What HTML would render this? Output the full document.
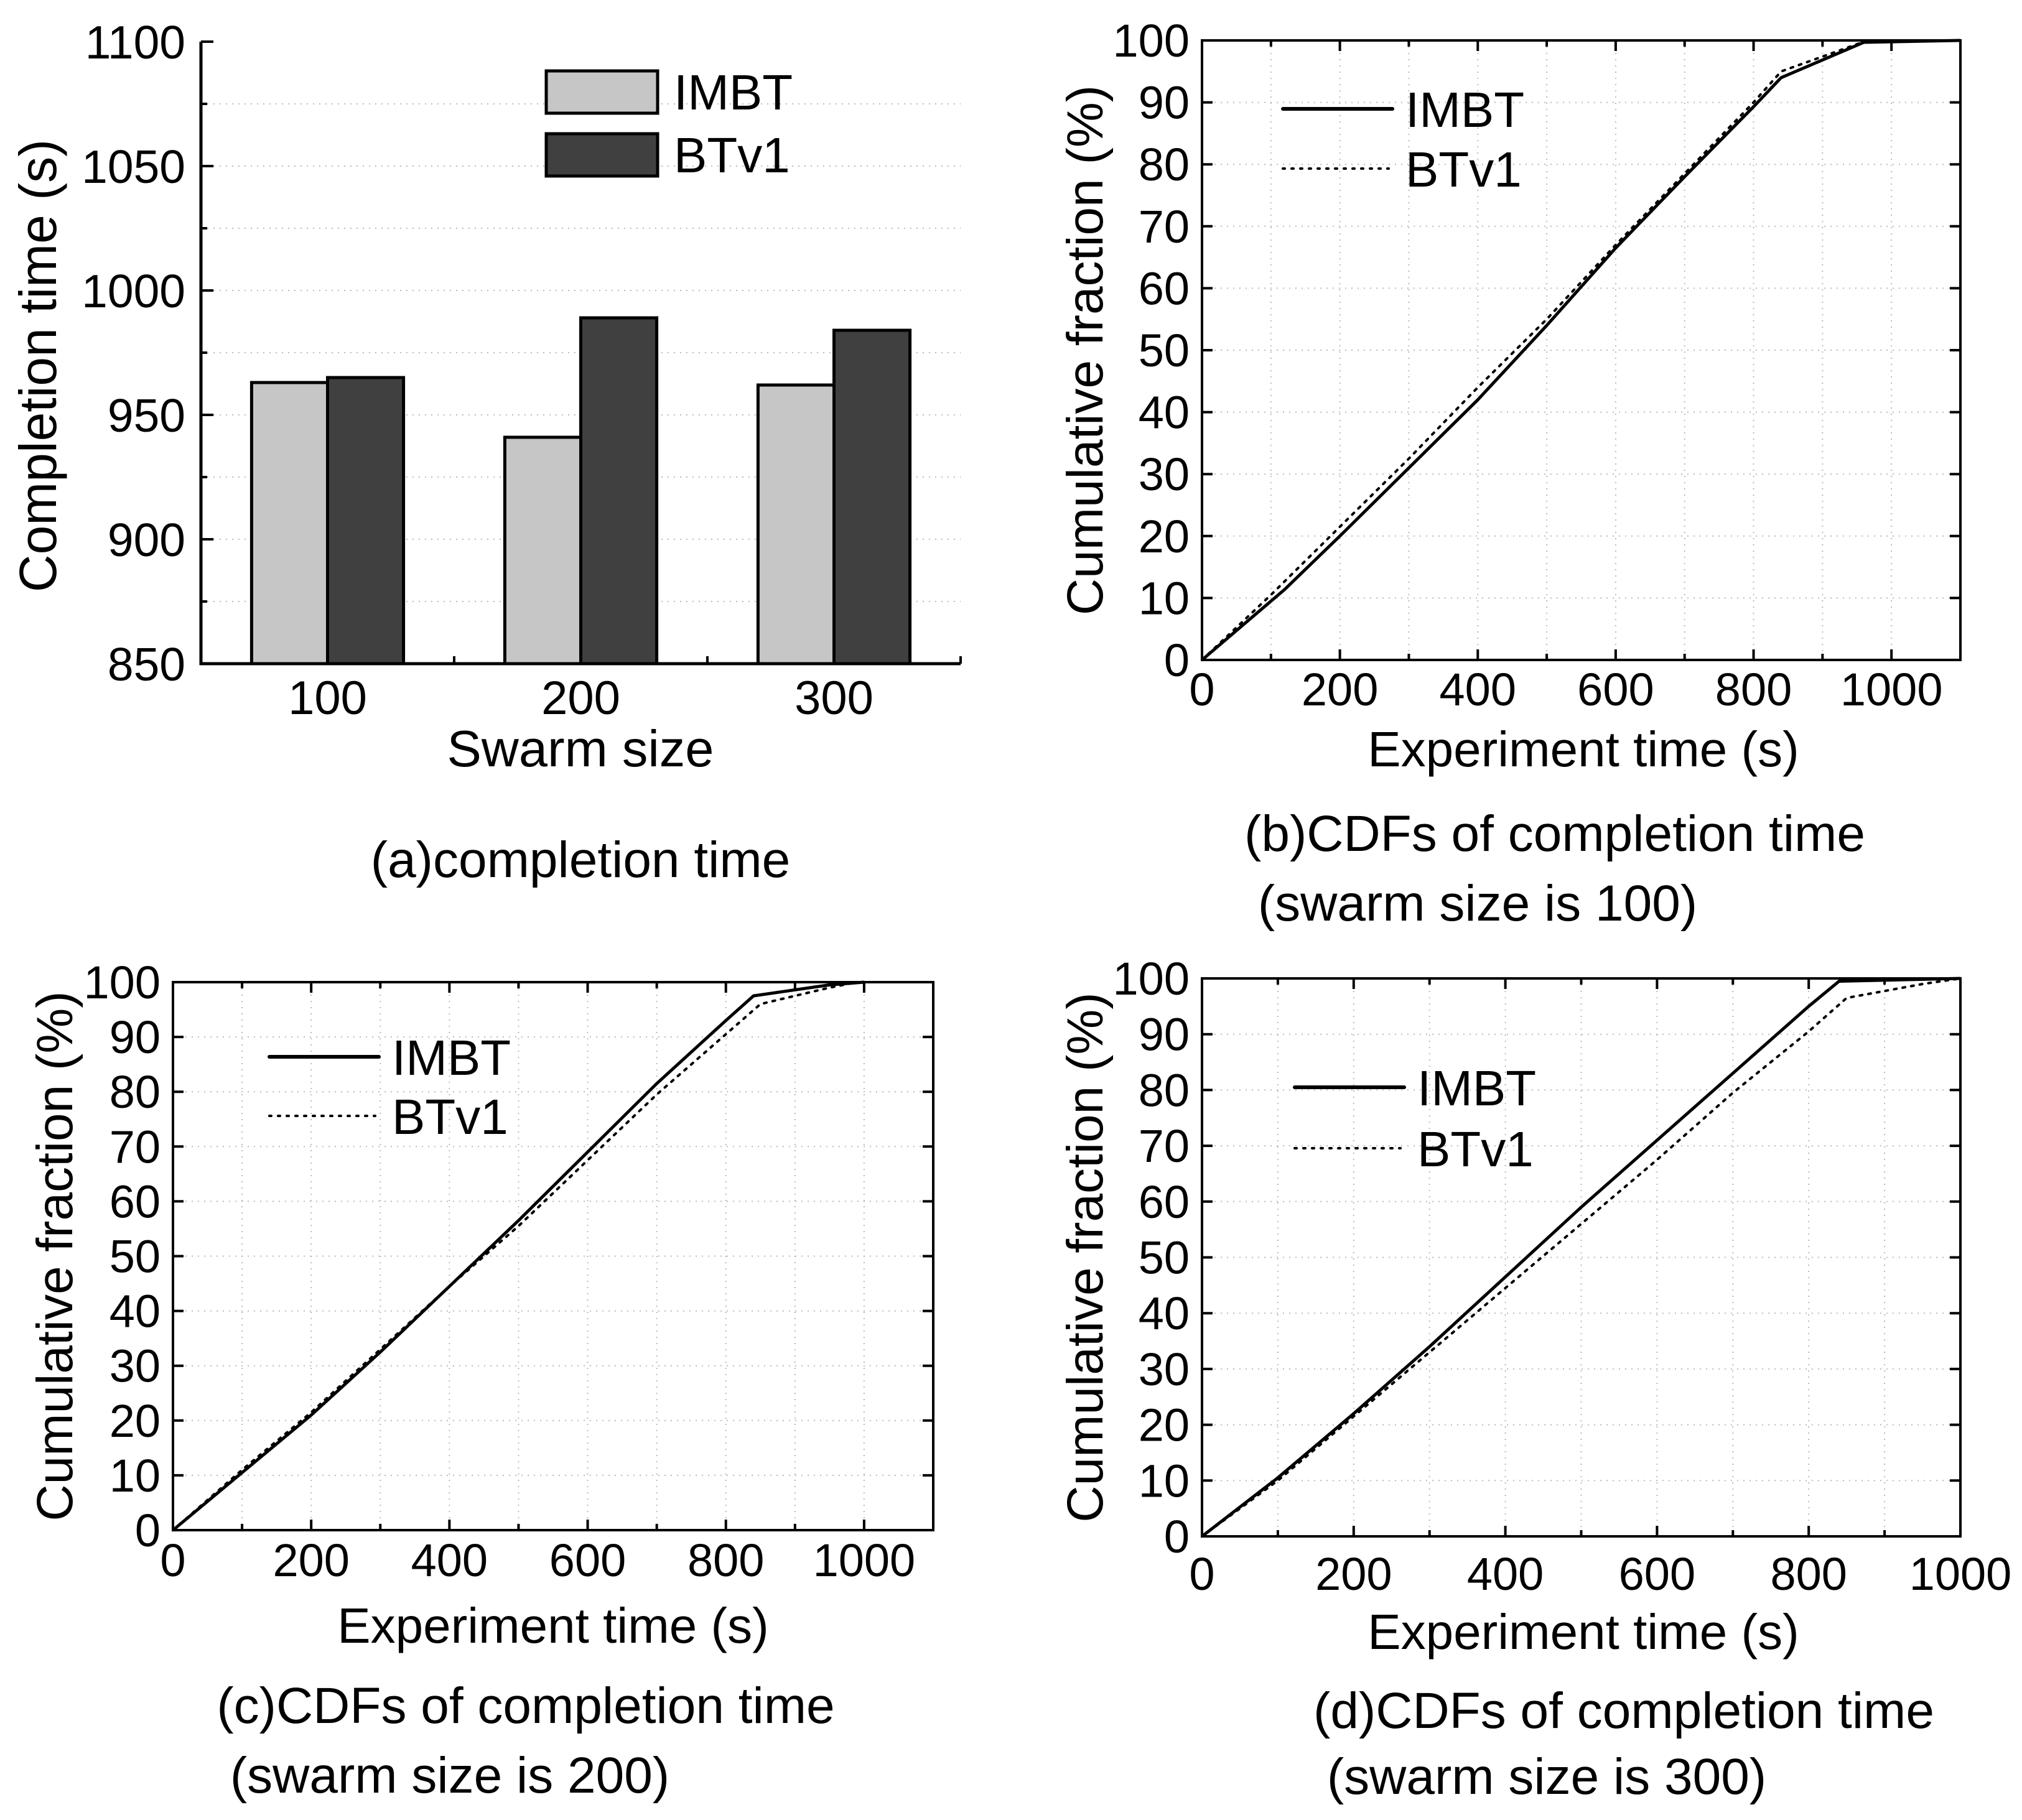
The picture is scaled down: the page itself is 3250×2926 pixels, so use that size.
<!DOCTYPE html>
<html><head><meta charset="utf-8"><style>
html,body{margin:0;padding:0;background:#fff}
svg{display:block}
text{font-family:"Liberation Sans",Arial,sans-serif;fill:#000}
</style></head><body>
<svg id="fig" width="3250" height="2926" viewBox="0 0 3250 2926" xmlns="http://www.w3.org/2000/svg"></svg>
<script>
// ---- Panel (a) data ----
const barCategories = ["100","200","300"];
const imbtTimes = [963, 941, 962];
const btv1Times = [965, 989, 984];
const barYTicks = [850, 900, 950, 1000, 1050, 1100];
// ---- CDF data (x: seconds, y: %) ----
const cdfXTicksBC = [0,200,400,600,800,1000];
const cdfXTicksD = [0,200,400,600,800,1000];
const cdfYTicks = [0,10,20,30,40,50,60,70,80,90,100];
const bImbtX = [0,120,200,300,400,500,600,700,800,840,960,1100];
const bImbtY = [0,11.4,20,31,42,54,66.5,78,89.3,94,99.7,100];
const bBtX = [0,100,200,300,400,500,600,700,800,840,960,1100];
const bBtY = [0,10.5,21.5,32.5,44,55,67,78.5,90,95,99.8,100];
const cImbtX = [0,100,200,300,400,500,600,700,800,840,950,1000];
const cImbtY = [0,10.5,21,32.5,44.5,56.5,69,81.5,93,97.5,99.5,100];
const cBtX = [0,100,200,300,400,500,600,700,800,850,950,990];
const cBtY = [0,11,21.5,33,44.5,55.5,67.5,79.5,90.5,96,99,100];
const dImbtX = [0,100,200,300,400,500,600,700,800,840,1000];
const dImbtY = [0,10.5,22,34,46.5,59,71,83,95,99.5,100];
const dBtX = [0,100,200,300,400,500,600,700,800,850,950,1000];
const dBtY = [0,10,21.5,33,44.5,56,67.5,79.5,90.5,96.5,99,100];

const NS="http://www.w3.org/2000/svg";
const svg=document.getElementById('fig');
function mk(tag,attrs,parent){const e=document.createElementNS(NS,tag);for(const k in attrs)e.setAttribute(k,attrs[k]);(parent||svg).appendChild(e);return e;}
function txt(s,x,y,size,anchor,parent,rot){const t=mk('text',{x:x,y:y,'font-size':size,'text-anchor':anchor||'middle'},parent);if(rot)t.setAttribute('transform','rotate(-90 '+x+' '+y+')');t.textContent=s;return t;}

// ===== Panel a =====
(function(){
 const g=mk('g',{});
 
 
 const L=323,R=1544,T=67,B=1067,ymin=850,ymax=1100;
 const ys=v=>B-(v-ymin)/(ymax-ymin)*(B-T);
 const cw=(R-L)/barCategories.length;
 const xc=i=>L+cw*(i+0.5);
 for(let v=875;v<1100;v+=25){const gl=mk('line',{x1:L,x2:R,y1:ys(v),y2:ys(v),stroke:'#bbb','stroke-width':2,'stroke-dasharray':'2 8'},g);
  }
 barCategories.forEach((c,i)=>{
  const bw=cw*0.3;
  const b1=mk('rect',{x:xc(i)-bw,y:ys(imbtTimes[i]),width:bw,height:B-ys(imbtTimes[i]),fill:'#c6c6c6',stroke:'#000','stroke-width':5},g);
  
  const b2=mk('rect',{x:xc(i),y:ys(btv1Times[i]),width:bw,height:B-ys(btv1Times[i]),fill:'#404040',stroke:'#000','stroke-width':5},g);
  
  const tl=txt(c,xc(i),1148,76,'middle',g);
  
 });
 mk('path',{d:`M${L} ${T}V${B}H${R}`,fill:'none',stroke:'#000','stroke-width':5},g);
 for(let v=ymin;v<=ymax;v+=25){const maj=(v%50===0);mk('line',{x1:L,x2:L+(maj?20:10),y1:ys(v),y2:ys(v),stroke:'#000','stroke-width':4},g);}
 barYTicks.forEach(v=>{const t=txt(String(v),298,ys(v)+27,75,'end',g);
  });
 for(let i=1;i<3;i++)mk('line',{x1:L+cw*i,x2:L+cw*i,y1:B,y2:B-12,stroke:'#000','stroke-width':4},g);
 mk('line',{x1:R,x2:R,y1:B,y2:B-12,stroke:'#000','stroke-width':4},g);
 const yt=txt('Completion time (s)',90,588,84,'middle',g,true);
 
 const xt=txt('Swarm size',933,1232,83,'middle',g);
 
 const cap=txt('(a)completion time',933,1410,82,'middle',g);
 
 const lg=mk('g',{},g);
 
 mk('rect',{x:878,y:114,width:179,height:68,fill:'#c6c6c6',stroke:'#000','stroke-width':5},lg);
 mk('rect',{x:878,y:215,width:179,height:68,fill:'#404040',stroke:'#000','stroke-width':5},lg);
 const l1=txt('IMBT',1083,176,80,'start',lg);
 const l2=txt('BTv1',1083,277,80,'start',lg);
})();

// ===== CDF panels =====
function cdf(o){
 const g=mk('g',{});
 
 
 const {L,R,T,B,xmax}=o;
 const xs=v=>L+v/xmax*(R-L), ys=v=>B-v/100*(B-T);
 for(let v=100;v<xmax;v+=100){mk('line',{x1:xs(v),x2:xs(v),y1:T,y2:B,stroke:'#bbb','stroke-width':2,'stroke-dasharray':'2 8'},g);}
 for(let v=10;v<100;v+=10){mk('line',{x1:L,x2:R,y1:ys(v),y2:ys(v),stroke:'#bbb','stroke-width':2,'stroke-dasharray':'2 8'},g);}
 mk('rect',{x:L,y:T,width:R-L,height:B-T,fill:'none',stroke:'#000','stroke-width':4},g);
 for(let v=100;v<xmax;v+=100){const len=(v%200===0)?17:10;
  mk('line',{x1:xs(v),x2:xs(v),y1:B,y2:B-len,stroke:'#000','stroke-width':4},g);
  mk('line',{x1:xs(v),x2:xs(v),y1:T,y2:T+len,stroke:'#000','stroke-width':4},g);}
 cdfYTicks.forEach(v=>{
  mk('line',{x1:L,x2:L+17,y1:ys(v),y2:ys(v),stroke:'#000','stroke-width':4},g);
  mk('line',{x1:R,x2:R-17,y1:ys(v),y2:ys(v),stroke:'#000','stroke-width':4},g);
  const t=txt(String(v),L-20,ys(v)+26,74,'end',g);
  
 });
 o.xticks.forEach(v=>{const t=txt(String(v),xs(v),o.xtY,74,'middle',g);
  });
 const pts=(X,Y)=>X.map((x,i)=>xs(x).toFixed(1)+','+ys(Y[i]).toFixed(1)).join(' ');
 const p2=mk('polyline',{points:pts(o.bx,o.by),fill:'none',stroke:'#000','stroke-width':4,'stroke-dasharray':'4 10','stroke-linecap':'round'},g);
 
 const p1=mk('polyline',{points:pts(o.ix,o.iy),fill:'none',stroke:'#000','stroke-width':5},g);
 
 const lg=mk('g',{},g);
 
 mk('line',{x1:o.lx,x2:o.lx+176,y1:o.ly1,y2:o.ly1,stroke:'#000','stroke-width':6,'stroke-linecap':'round'},lg);
 mk('line',{x1:o.lx,x2:o.lx+170,y1:o.ly2,y2:o.ly2,stroke:'#000','stroke-width':4,'stroke-dasharray':'3 11','stroke-linecap':'round'},lg);
 const a=txt('IMBT',o.lx+197,o.ly1+29,80,'start',lg);
 const b=txt('BTv1',o.lx+197,o.ly2+29,80,'start',lg);
 const yt=txt('Cumulative fraction (%)',o.ytX,(T+B)/2,82,'middle',g,true);
 
 const xt=txt('Experiment time (s)',o.xtitleX,o.xtitleY,80,'middle',g);
 
 const c1=txt(o.cap1,o.c1x,o.c1y,82,'middle',g);
 const c2=txt(o.cap2,o.c2x,o.c2y,82,'middle',g);
}
cdf({name:'cdf-chart-100',L:1932,R:3151,T:65,B:1061,xmax:1100,xticks:cdfXTicksBC,xtY:1134,
 ix:bImbtX,iy:bImbtY,bx:bBtX,by:bBtY,lx:2062,ly1:175,ly2:271,ytX:1772,xtitleX:2545,xtitleY:1232,
 cap1:'(b)CDFs of completion time',c1x:2499,c1y:1368,cap2:'(swarm size is 100)',c2x:2375,c2y:1480});
cdf({name:'cdf-chart-200',L:278,R:1500,T:1579,B:2460,xmax:1100,xticks:cdfXTicksBC,xtY:2534,
 ix:cImbtX,iy:cImbtY,bx:cBtX,by:cBtY,lx:433,ly1:1699,ly2:1794,ytX:116,xtitleX:889,xtitleY:2641,
 cap1:'(c)CDFs of completion time',c1x:845,c1y:2770,cap2:'(swarm size is 200)',c2x:723,c2y:2882});
cdf({name:'cdf-chart-300',L:1932,R:3151,T:1573,B:2470,xmax:1000,xticks:cdfXTicksD,xtY:2556,
 ix:dImbtX,iy:dImbtY,bx:dBtX,by:dBtY,lx:2081,ly1:1748,ly2:1846,ytX:1772,xtitleX:2545,xtitleY:2651,
 cap1:'(d)CDFs of completion time',c1x:2610,c1y:2778,cap2:'(swarm size is 300)',c2x:2486,c2y:2884});
</script>
</body></html>
